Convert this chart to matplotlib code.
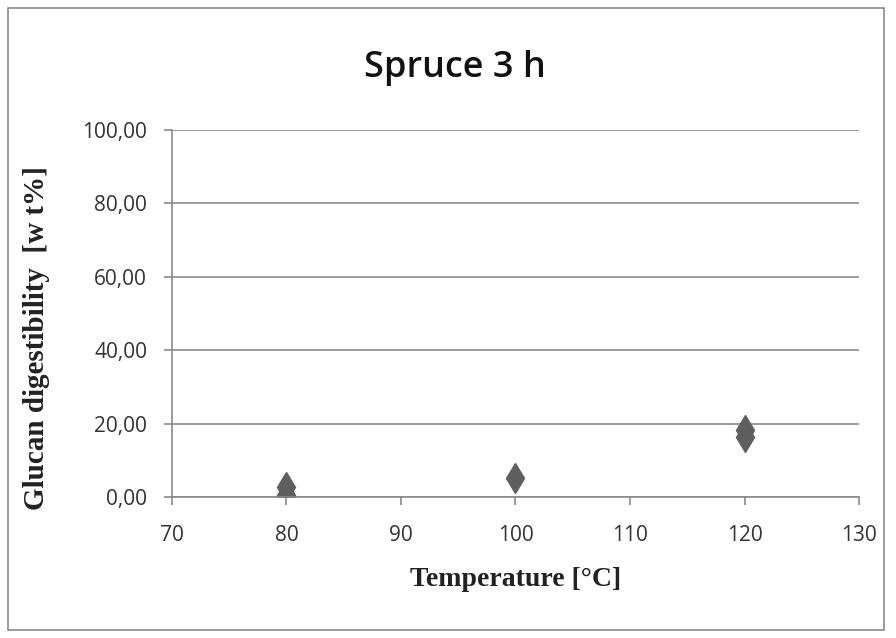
import matplotlib.pyplot as plt
from matplotlib.patches import Rectangle

temps = [80, 80, 100, 120, 120]
digest = [2.8, 0.6, 5.2, 18.2, 16.4]
yticks = [0, 20, 40, 60, 80, 100]
xticks = [70, 80, 90, 100, 110, 120, 130]

fig = plt.figure(figsize=(8.96, 6.38), dpi=100)
ax = fig.add_axes([172/896, 1 - 497/638, (859-172)/896, (497-130)/638])

ax.plot(temps, digest, linestyle='none', marker='d', markersize=15,
        color='#5f5f5f', markeredgecolor='#5f5f5f')

ax.set_xlim(70, 130)
ax.set_ylim(0, 100)
ax.set_xticks(xticks)
ax.set_yticks(yticks)
ax.set_yticklabels([f'{v:.2f}'.replace('.', ',') for v in yticks])
ax.yaxis.grid(True, color='#8a8a8a', linewidth=1.2)
ax.set_axisbelow(True)
for s in ['top', 'right']:
    ax.spines[s].set_visible(False)
for s in ['left', 'bottom']:
    ax.spines[s].set_color('#8a8a8a')
    ax.spines[s].set_linewidth(1.2)
ax.tick_params(colors='#8a8a8a', length=6, width=1.2, labelcolor='#333333',
               labelsize=15)
for lab in ax.get_xticklabels() + ax.get_yticklabels():
    lab.set_family('Open Sans')
ax.tick_params(axis='x', pad=14)
ax.tick_params(axis='y', pad=12)

fig.text(455/896, 1 - 68/638, 'Spruce 3 h', ha='center', va='center',
         fontsize=26, family='Open Sans', weight='semibold', color='#111111')
fig.text(516/896, 1 - 580/638, 'Temperature [°C]', ha='center', va='center',
         fontsize=20, family='Liberation Serif', weight='bold', color='#222222')
fig.text(36/896, 1 - 338/638, 'Glucan digestibility  [w t%]', ha='center',
         va='center', rotation=90, fontsize=21, family='Liberation Serif',
         weight='bold', color='#222222')

fig.patches.append(Rectangle((8/896, 8/638), 876/896, 622/638,
                             transform=fig.transFigure, fill=False,
                             edgecolor='#8a8a8a', linewidth=1.2))

fig.savefig('out.png', dpi=100)
